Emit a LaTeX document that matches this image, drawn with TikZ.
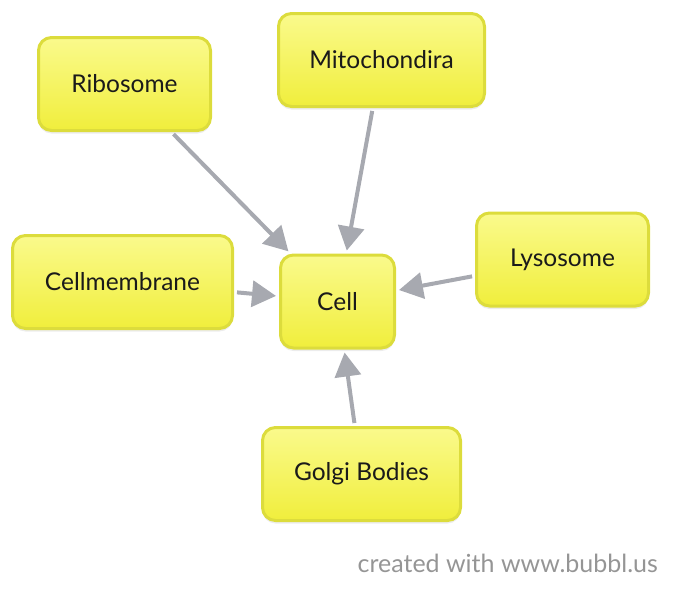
\documentclass[tikz,border=0pt]{standalone}
\usepackage{fontspec}
\setmainfont{Lato}
\usetikzlibrary{shadows,arrows.meta}
\definecolor{nodeborder}{HTML}{DCDC3C}
\definecolor{nodetop}{HTML}{FAFA8C}
\definecolor{nodebot}{HTML}{F0EE3C}
\definecolor{arrowgray}{HTML}{A7A9B0}
\definecolor{footgray}{HTML}{959595}
\definecolor{textdark}{HTML}{1A1A1A}
\begin{document}
\begin{tikzpicture}[x=1pt,y=-1pt,
  box/.style={draw=nodeborder, line width=3pt, rounded corners=13pt,
    top color=nodetop, bottom color=nodebot, minimum height=93pt,
    font=\fontsize{24.5}{28}\selectfont, text=textdark, inner sep=0pt,
    drop shadow={opacity=0.15, shadow xshift=0pt, shadow yshift=-3pt}},
  link/.style={draw=arrowgray, line width=4pt,
    -{Triangle[length=24pt,width=26pt]}, shorten >=3pt, shorten <=3pt}]
\useasboundingbox (0,0) rectangle (676,597);
\node[box, minimum width=172pt] (ribo) at (124.5,84) {Ribosome};
\node[box, minimum width=206pt] (mito) at (381.5,60) {Mitochondira};
\node[box, minimum width=220pt] (memb) at (122.5,282) {Cellmembrane};
\node[box, minimum width=114pt] (cell) at (337.5,301.5) {Cell};
\node[box, minimum width=172pt] (lyso) at (562.5,259.5) {Lysosome};
\node[box, minimum width=198pt] (golgi) at (361.5,474) {Golgi Bodies};
\draw[link] (ribo) -- (cell);
\draw[link] (mito) -- (cell);
\draw[link] (memb) -- (cell);
\draw[link] (lyso) -- (cell);
\draw[link] (golgi) -- (cell);
\node[anchor=east, text=footgray, font=\fontsize{25}{28}\selectfont, inner sep=0pt] (foot) at (658,563) {created with www.bubbl.us};
\end{tikzpicture}
\end{document}
